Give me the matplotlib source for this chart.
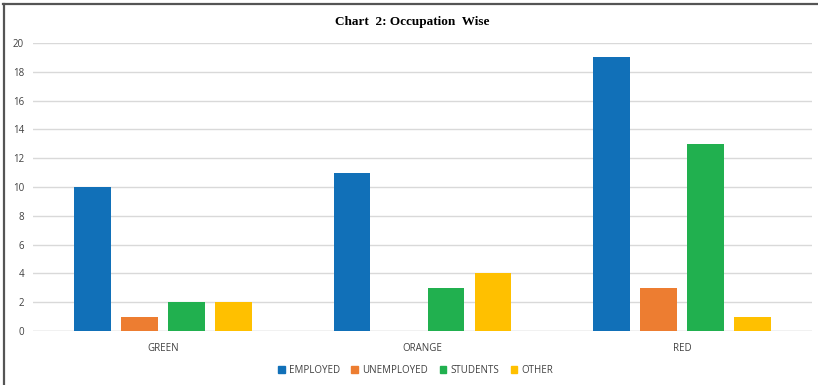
import numpy as np
import matplotlib
matplotlib.use("Agg")
from matplotlib import pyplot as plt
from matplotlib.patches import Patch
from matplotlib.lines import Line2D

# data
groups = ["GREEN", "ORANGE", "RED"]
series = ["EMPLOYED", "UNEMPLOYED", "STUDENTS", "OTHER"]
employed = [10, 11, 19]
unemployed = [1, 0, 3]
students = [2, 3, 13]
other = [2, 4, 1]
colors = ["#1170B8", "#ED7D31", "#21B04F", "#FFC000"]

values = [employed, unemployed, students, other]

fig = plt.figure(figsize=(8.18, 3.85), dpi=100)
ax = fig.add_axes([0.0403, 0.1403, 0.9524, 0.748])

x = np.arange(len(groups))
width = 0.142
step = 0.181
for i, (name, vals) in enumerate(zip(series, values)):
    offs = (i - 1.5) * step
    ax.bar(x + offs, vals, width, color=colors[i], label=name, zorder=3)

ax.set_xlim(-0.5, len(groups) - 0.5)
ax.set_ylim(0, 20)
ax.set_yticks(range(0, 21, 2))
ax.set_xticks(x)
ax.set_xticklabels(groups)
ax.yaxis.grid(True, color="#D9D9D9", linewidth=1, zorder=0)
for s in ax.spines.values():
    s.set_visible(False)
ax.axhline(0, color="#D9D9D9", linewidth=1, zorder=2)
ax.tick_params(length=0, labelsize=7, labelcolor="#404040",
               labelfontfamily="Open Sans")
ax.tick_params(axis="x", pad=9)
ax.tick_params(axis="y", pad=6.5)

fig.text(0.504, 0.943, "Chart  2: Occupation  Wise", ha="center", va="center",
         fontsize=9.5, fontweight="bold", family="Liberation Serif")

handles = [Patch(color=c) for c in colors]
leg = fig.legend(handles, series, loc="center", bbox_to_anchor=(0.508, 0.038),
                 ncol=4, frameon=False, handlelength=0.7, handleheight=0.7,
                 handletextpad=0.4, columnspacing=1.2,
                 prop={"family": "Open Sans", "size": 7})
for t in leg.get_texts():
    t.set_color("#404040")

# frame lines on the left and top edges
fig.add_artist(Line2D([0.0043, 0.0043], [0, 0.99], transform=fig.transFigure,
                      color="#555555", linewidth=1.6))
fig.add_artist(Line2D([0.0035, 1.0], [0.9895, 0.9895], transform=fig.transFigure,
                      color="#555555", linewidth=1.6))

fig.savefig("out.png", dpi=100)
